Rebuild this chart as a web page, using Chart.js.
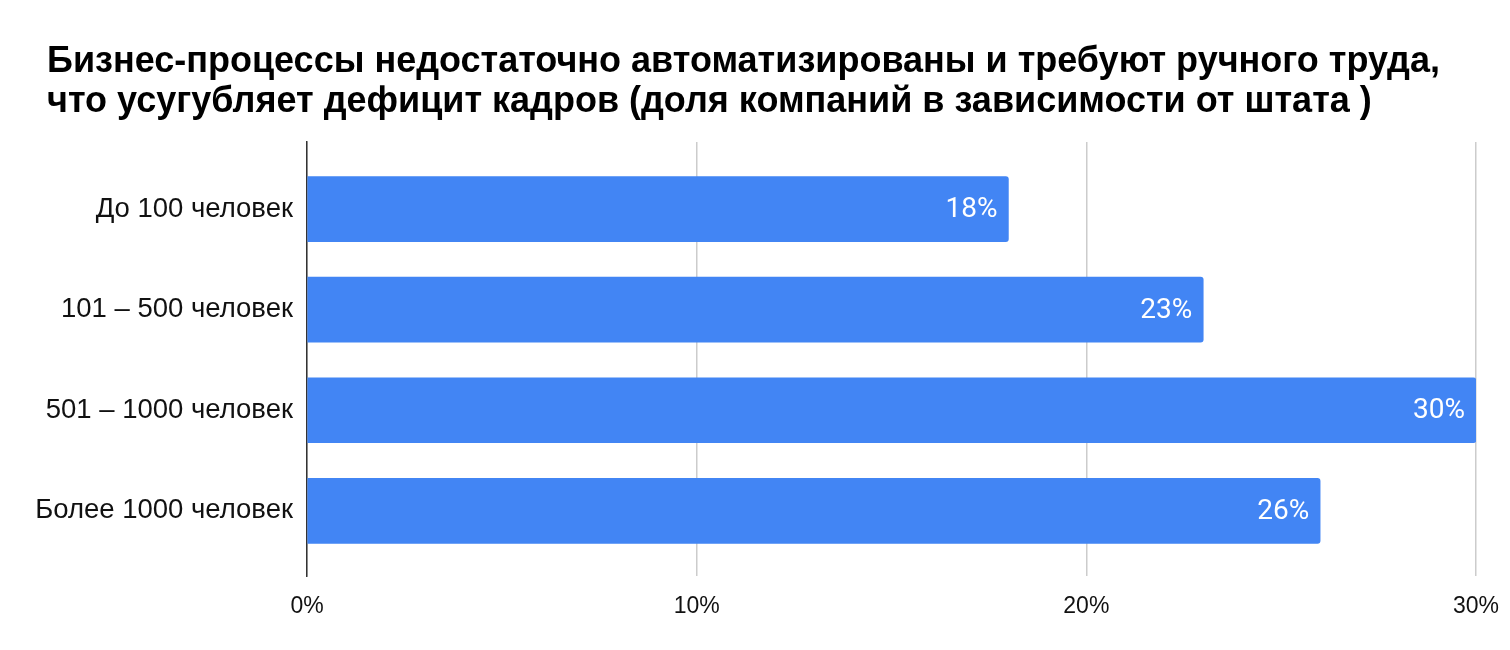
<!DOCTYPE html>
<html>
<head>
<meta charset="utf-8">
<script src="https://cdn.jsdelivr.net/npm/chart.js@4.4.1/dist/chart.umd.min.js"></script>
<style>
  html, body { margin: 0; padding: 0; background: #ffffff; }
  #wrap { width: 1510px; height: 650px; }
</style>
</head>
<body>
<div id="wrap"><canvas id="c" width="1510" height="650"></canvas></div>
<script>
const titleLines = [
  "Бизнес-процессы недостаточно автоматизированы и требуют ручного труда,",
  "что усугубляет дефицит кадров (доля компаний в зависимости от штата )"
];
const categories = ["До 100 человек", "101 – 500 человек", "501 – 1000 человек", "Более 1000 человек"];
const values = [18, 23, 30, 26];
const xTicks = [0, 10, 20, 30];

const barLabels = {
  id: 'barLabels',
  afterDatasetsDraw(chart) {
    const ctx = chart.ctx;
    const meta = chart.getDatasetMeta(0);
    ctx.save();
    ctx.font = '28px Roboto';
    ctx.fillStyle = '#ffffff';
    ctx.textAlign = 'right';
    ctx.textBaseline = 'middle';
    meta.data.forEach((bar, i) => {
      ctx.fillText(values[i] + '%', bar.x - 11, bar.y + 1);
    });
    ctx.restore();
  }
};

const titleShift = {
  id: 'titleShift',
  afterLayout(chart) {
    if (chart.titleBlock) {
      chart.titleBlock.left += 27;
      chart.titleBlock.right += 27;
    }
  }
};

new Chart(document.getElementById('c'), {
  type: 'bar',
  data: {
    datasets: [{
      data: categories.map((c, i) => ({ x: values[i], y: i })),
      backgroundColor: '#4285F4',
      borderRadius: { topRight: 3, bottomRight: 3, topLeft: 0, bottomLeft: 0 },
      borderSkipped: false,
      barThickness: 65
    }]
  },
  options: {
    responsive: false,
    animation: false,
    indexAxis: 'y',
    layout: { padding: { left: 20, right: 34, top: 0, bottom: 14 } },
    plugins: {
      legend: { display: false },
      tooltip: { enabled: false },
      title: {
        display: true,
        text: titleLines,
        align: 'start',
        color: '#000000',
        font: { family: 'Liberation Sans', size: 36, weight: 'bold', lineHeight: '40px' },
        padding: { top: 42, bottom: 20 }
      }
    },
    scales: {
      x: {
        type: 'linear',
        min: 0,
        max: 30,
        afterBuildTicks: (s) => { s.ticks = xTicks.map(v => ({ value: v })); },
        afterFit: (s) => { s.paddingLeft = 0; s.paddingRight = 0; },
        ticks: {
          callback: (v) => v + '%',
          font: { family: 'Liberation Sans', size: 23 },
          color: '#111111',
          padding: 16,
          maxRotation: 0
        },
        grid: { color: '#cccccc', lineWidth: 1.5, drawTicks: false },
        border: { display: false }
      },
      y: {
        type: 'linear',
        reverse: true,
        offset: false,
        min: -0.667,
        max: 3.652,
        afterBuildTicks: (s) => { s.ticks = categories.map((c, i) => ({ value: i })); },
        afterFit: (s) => { s.width = 287; s.paddingTop = 0; s.paddingBottom = 0; },
        ticks: {
          callback: (v) => categories[v],
          font: { family: 'Liberation Sans', size: 27.5 },
          color: '#111111',
          padding: 14
        },
        grid: { display: false, drawTicks: false, offset: false },
        border: { display: true, color: '#333333', width: 1.5 }
      }
    }
  },
  plugins: [barLabels, titleShift]
});
</script>
</body>
</html>
